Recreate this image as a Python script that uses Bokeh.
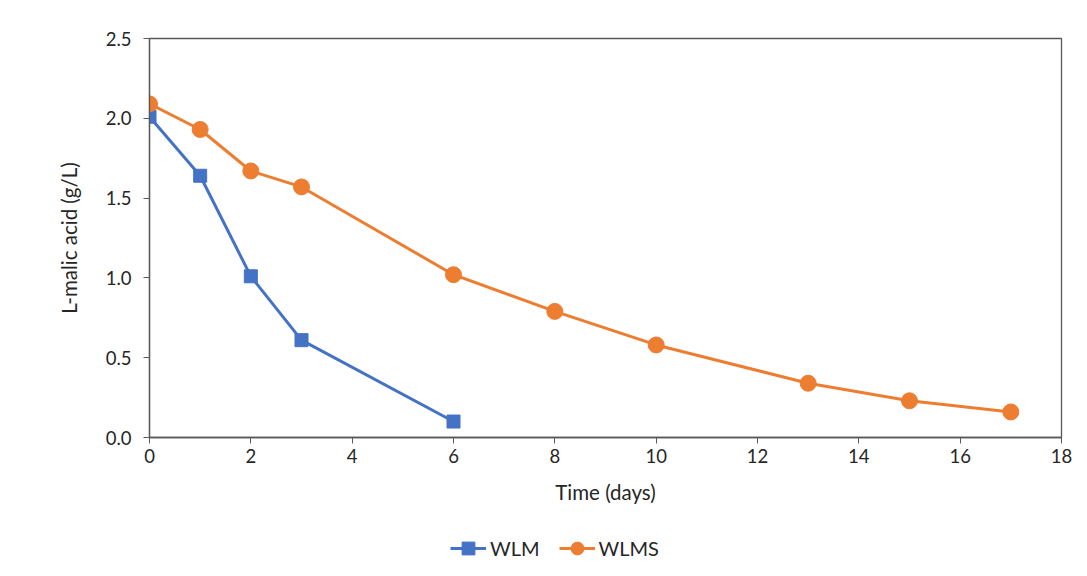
from bokeh.plotting import figure
from bokeh.layouts import column
from bokeh.models import Legend, LegendItem, NumeralTickFormatter, FixedTicker, Range1d
from bokeh.embed import file_html
from bokeh.resources import INLINE

days_wlm = [0, 1, 2, 3, 6]
malic_wlm = [2.01, 1.64, 1.01, 0.61, 0.10]
days_wlms = [0, 1, 2, 3, 6, 8, 10, 13, 15, 17]
malic_wlms = [2.09, 1.93, 1.67, 1.57, 1.02, 0.79, 0.58, 0.34, 0.23, 0.16]
x_ticks = [0, 2, 4, 6, 8, 10, 12, 14, 16, 18]
y_ticks = [0.0, 0.5, 1.0, 1.5, 2.0, 2.5]
series_names = ["WLM", "WLMS"]

BLUE = "#4472C4"
ORANGE = "#ED7D31"
FONT = "Lato"
AX = "#595959"
TXT = "#262626"

p = figure(width=1079, height=520, output_backend="svg", toolbar_location=None,
           x_range=Range1d(0, 18), y_range=Range1d(0, 2.5),
           min_border_left=149, min_border_right=18, min_border_top=38, min_border_bottom=83)

p.xgrid.visible = False
p.ygrid.visible = False
p.outline_line_color = AX
p.outline_line_width = 1.3

for ax in (p.xaxis[0], p.yaxis[0]):
    ax.axis_line_color = AX
    ax.axis_line_width = 1.3
    ax.major_tick_line_color = AX
    ax.major_tick_in = 0
    ax.major_tick_out = 6
    ax.minor_tick_line_color = None
    ax.major_label_text_font = FONT
    ax.major_label_text_font_size = "18.5px"
    ax.major_label_text_color = TXT
    ax.axis_label_text_font = FONT
    ax.axis_label_text_font_size = "20.5px"
    ax.axis_label_text_font_style = "normal"
    ax.axis_label_text_color = TXT

p.xaxis.ticker = FixedTicker(ticks=x_ticks)
p.yaxis.ticker = FixedTicker(ticks=y_ticks)
p.yaxis.formatter = NumeralTickFormatter(format="0.0")
p.xaxis.axis_label = "Time (days)"
p.yaxis.axis_label = "L-malic acid (g/L)"
p.xaxis.major_label_standoff = 5
p.yaxis.major_label_standoff = 12
p.xaxis.axis_label_standoff = 14
p.yaxis.axis_label_standoff = 22

p.line(days_wlm, malic_wlm, line_color=BLUE, line_width=3)
p.scatter(days_wlm, malic_wlm, marker="square", size=13, fill_color=BLUE, line_color=BLUE)
p.line(days_wlms, malic_wlms, line_color=ORANGE, line_width=3)
p.scatter(days_wlms, malic_wlms, marker="circle", size=16, fill_color=ORANGE, line_color=ORANGE)

# legend strip below the chart (same series styling; sample glyphs lie outside its ranges)
lg = figure(width=1079, height=48, output_backend="svg", toolbar_location=None,
            x_range=Range1d(0, 1), y_range=Range1d(0, 1),
            min_border=0, min_border_left=0, min_border_right=0, min_border_top=0, min_border_bottom=0)
lg.axis.visible = False
lg.grid.visible = False
lg.outline_line_color = None
ll1 = lg.line(x=[-5, -4], y=[-5, -4], line_color=BLUE, line_width=3)
ls1 = lg.scatter(x=[-5], y=[-5], marker="square", size=13, fill_color=BLUE, line_color=BLUE)
ll2 = lg.line(x=[-5, -4], y=[-5, -4], line_color=ORANGE, line_width=3)
ls2 = lg.scatter(x=[-5], y=[-5], marker="circle", size=14, fill_color=ORANGE, line_color=ORANGE)

legend = Legend(items=[LegendItem(label=series_names[0], renderers=[ll1, ls1]),
                       LegendItem(label=series_names[1], renderers=[ll2, ls2])],
                orientation="horizontal", location=(301, 4),
                label_text_font=FONT, label_text_font_size="20px", label_text_color=TXT,
                glyph_width=36, glyph_height=32, label_standoff=4, spacing=19,
                border_line_color=None, background_fill_alpha=0, margin=0, padding=2)
lg.add_layout(legend, "center")

open("out.html", "w").write(file_html(column(p, lg, spacing=0), INLINE))
